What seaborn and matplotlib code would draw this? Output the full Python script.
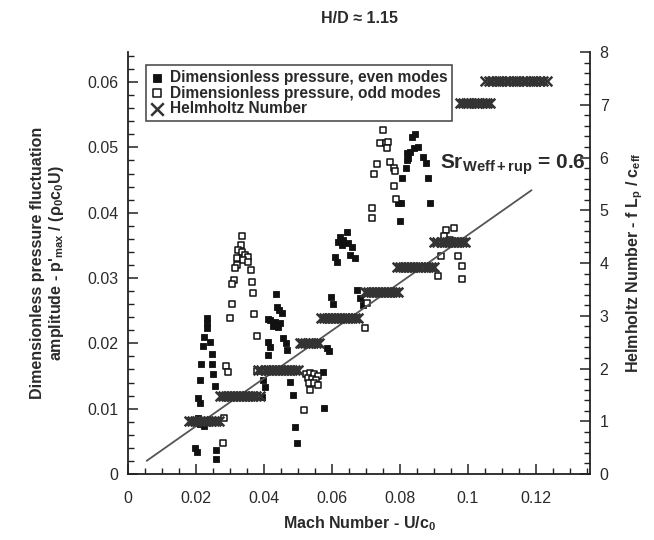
import numpy as np
import matplotlib
matplotlib.use("Agg")
import matplotlib.pyplot as plt
from matplotlib.ticker import MultipleLocator
import seaborn as sns

# ---------------- data ----------------
even_mach = [0.0232, 0.0232, 0.0232, 0.0224, 0.0241, 0.0221, 0.0247, 0.0215, 0.0247, 0.0250,
             0.0212, 0.0256, 0.0206, 0.0212, 0.0206, 0.0218, 0.0200, 0.0212, 0.0224, 0.0197,
             0.0203, 0.0259, 0.0259,
             0.0435, 0.0438, 0.0444, 0.0453, 0.0412, 0.0418, 0.0432, 0.0447, 0.0426, 0.0441,
             0.0412, 0.0418, 0.0412, 0.0456, 0.0465, 0.0468, 0.0397, 0.0403, 0.0394, 0.0476,
             0.0485, 0.0491, 0.0497,
             0.0644, 0.0624, 0.0618, 0.0632, 0.0647, 0.0659, 0.0629, 0.0609, 0.0615, 0.0653,
             0.0668, 0.0597, 0.0603, 0.0674, 0.0682, 0.0691, 0.0585, 0.0591, 0.0574, 0.0576,
             0.0844, 0.0835, 0.0853, 0.0841, 0.0829, 0.0821, 0.0824, 0.0821, 0.0868, 0.0876,
             0.0818, 0.0806, 0.0882, 0.0803, 0.0794, 0.0888, 0.0800]
even_p = [0.0239, 0.0231, 0.0223, 0.0210, 0.0202, 0.0196, 0.0184, 0.0168, 0.0168, 0.0153,
          0.0144, 0.0135, 0.0116, 0.0109, 0.0086, 0.0083, 0.0080, 0.0077, 0.0073, 0.0040,
          0.0034, 0.0037, 0.0023,
          0.0276, 0.0256, 0.0251, 0.0246, 0.0237, 0.0236, 0.0233, 0.0231, 0.0227, 0.0225,
          0.0202, 0.0194, 0.0182, 0.0208, 0.0201, 0.0190, 0.0144, 0.0133, 0.0118, 0.0141,
          0.0121, 0.0072, 0.0047,
          0.0370, 0.0363, 0.0355, 0.0358, 0.0354, 0.0347, 0.0351, 0.0332, 0.0325, 0.0335,
          0.0331, 0.0271, 0.0260, 0.0282, 0.0269, 0.0259, 0.0193, 0.0188, 0.0156, 0.0101,
          0.0520, 0.0516, 0.0501, 0.0499, 0.0493, 0.0491, 0.0484, 0.0481, 0.0485, 0.0476,
          0.0468, 0.0453, 0.0453, 0.0415, 0.0415, 0.0415, 0.0387]

odd_mach = [0.0335, 0.0332, 0.0324, 0.0335, 0.0344, 0.0353, 0.0321, 0.0338, 0.0353, 0.0321,
            0.0315, 0.0362, 0.0312, 0.0306, 0.0365, 0.0368, 0.0306, 0.0300, 0.0371, 0.0379,
            0.0288, 0.0294, 0.0379, 0.0282, 0.0279,
            0.0524, 0.0535, 0.0547, 0.0559, 0.0529, 0.0541, 0.0553, 0.0532, 0.0547, 0.0559,
            0.0535, 0.0518,
            0.0750, 0.0741, 0.0759, 0.0765, 0.0762, 0.0732, 0.0724, 0.0771, 0.0782, 0.0785,
            0.0782, 0.0788, 0.0718, 0.0718, 0.0703, 0.0697,
            0.0935, 0.0959, 0.0929, 0.0947, 0.0971, 0.0921, 0.0982, 0.0982, 0.0912]
odd_p = [0.0364, 0.0351, 0.0343, 0.0340, 0.0335, 0.0332, 0.0331, 0.0328, 0.0325, 0.0320,
         0.0315, 0.0312, 0.0297, 0.0291, 0.0294, 0.0277, 0.0260, 0.0239, 0.0245, 0.0211,
         0.0165, 0.0156, 0.0158, 0.0086, 0.0047,
         0.0153, 0.0155, 0.0153, 0.0150, 0.0147, 0.0145, 0.0144, 0.0139, 0.0139, 0.0136,
         0.0129, 0.0098,
         0.0527, 0.0507, 0.0507, 0.0508, 0.0499, 0.0475, 0.0459, 0.0478, 0.0468, 0.0464,
         0.0441, 0.0421, 0.0407, 0.0392, 0.0262, 0.0223,
         0.0373, 0.0377, 0.0364, 0.0358, 0.0334, 0.0334, 0.0318, 0.0298, 0.0303]

helm_mach = [0.0180, 0.0188, 0.0196, 0.0204, 0.0212, 0.0220, 0.0228, 0.0236, 0.0244, 0.0252, 0.0260, 0.0268,
             0.0270, 0.0279, 0.0288, 0.0297, 0.0306, 0.0315, 0.0324, 0.0333, 0.0342, 0.0351, 0.0360, 0.0369, 0.0378, 0.0388,
             0.0384, 0.0393, 0.0402, 0.0411, 0.0420, 0.0429, 0.0438, 0.0447, 0.0456, 0.0465, 0.0474, 0.0483, 0.0492, 0.0500,
             0.0505, 0.0513, 0.0521, 0.0529, 0.0537, 0.0545, 0.0553, 0.0561,
             0.0568, 0.0577, 0.0586, 0.0595, 0.0604, 0.0613, 0.0622, 0.0631, 0.0640, 0.0649, 0.0658, 0.0667, 0.0676,
             0.0697, 0.0706, 0.0715, 0.0724, 0.0733, 0.0742, 0.0751, 0.0760, 0.0769, 0.0778, 0.0787, 0.0796,
             0.0792, 0.0801, 0.0810, 0.0819, 0.0828, 0.0837, 0.0846, 0.0855, 0.0864, 0.0873, 0.0882, 0.0891, 0.0900,
             0.0902, 0.0911, 0.0920, 0.0929, 0.0938, 0.0947, 0.0956, 0.0965, 0.0974, 0.0983, 0.0992,
             0.0978, 0.0986, 0.0994, 0.1002, 0.1010, 0.1018, 0.1026, 0.1034, 0.1042, 0.1050, 0.1058, 0.1066,
             0.1052, 0.1062, 0.1072, 0.1082, 0.1092, 0.1102, 0.1112, 0.1122, 0.1132, 0.1142, 0.1152, 0.1162,
             0.1172, 0.1182, 0.1192, 0.1202, 0.1212, 0.1222, 0.1234]
helm_he = ([1.00] * 12 + [1.48] * 14 + [1.98] * 14 + [2.48] * 8 + [2.96] * 13 + [3.45] * 12
           + [3.92] * 13 + [4.40] * 11 + [7.03] * 12 + [7.45] * 19)

fit_mach = [0.0055, 0.1188]
fit_he = [0.25, 5.38]

xticks = [0, 0.02, 0.04, 0.06, 0.08, 0.1, 0.12]
xticklabels = ["0", "0.02", "0.04", "0.06", "0.08", "0.1", "0.12"]
yticks = [0, 0.01, 0.02, 0.03, 0.04, 0.05, 0.06]
y2ticks = [0, 1, 2, 3, 4, 5, 6, 7, 8]

# ---------------- style ----------------
sns.set_style("ticks")
plt.rcParams["font.family"] = ["Liberation Sans", "DejaVu Sans"]
plt.rcParams["mathtext.fontset"] = "custom"
plt.rcParams["mathtext.rm"] = "Liberation Sans:bold"
plt.rcParams["mathtext.bf"] = "Liberation Sans:bold"
plt.rcParams["mathtext.it"] = "Liberation Sans:bold"
TXT = "#2a2a2a"

fig = plt.figure(figsize=(6.54, 5.4), dpi=100)
ax = fig.add_axes([0.1957, 0.1222, 0.7064, 0.7815])
ax2 = ax.twinx()

sns.scatterplot(x=even_mach, y=even_p, ax=ax, marker="s", color="#111111", s=20,
                edgecolor="#111111", linewidth=0.6, legend=False,
                label="Dimensionless pressure, even modes", zorder=3)
sns.scatterplot(x=odd_mach, y=odd_p, ax=ax, marker="s", color="#111111", facecolor="white",
                edgecolor="#111111", s=16, linewidth=1.1, legend=False,
                label="Dimensionless pressure, odd modes", zorder=3)
sns.lineplot(x=fit_mach, y=fit_he, ax=ax2, color="#555555", linewidth=1.3, legend=False, zorder=2)
sns.scatterplot(x=helm_mach, y=helm_he, ax=ax2, marker="x", color="#333333", s=48,
                linewidth=1.8, legend=False, label="Helmholtz Number", zorder=4)

ax.set_xlim(0, 0.136)
ax.set_ylim(0, 0.0646)
ax2.set_ylim(0, 8)

ax.set_xticks(xticks)
ax.set_xticklabels(xticklabels)
ax.set_yticks(yticks)
ax.set_yticklabels(["0", "0.01", "0.02", "0.03", "0.04", "0.05", "0.06"])
ax2.set_yticks(y2ticks)
ax.xaxis.set_minor_locator(MultipleLocator(0.005))
ax.yaxis.set_minor_locator(MultipleLocator(0.002))
ax2.yaxis.set_minor_locator(MultipleLocator(0.2))

for a in (ax, ax2):
    a.tick_params(which="major", direction="in", length=7, width=1.1, labelsize=11.5,
                  labelcolor=TXT, color="#222222", pad=7)
    a.tick_params(which="minor", direction="in", length=4, width=1.0, color="#222222")
    a.spines["top"].set_visible(False)
    for sp in ("left", "right", "bottom"):
        a.spines[sp].set_linewidth(1.3)
        a.spines[sp].set_color("#222222")
ax.tick_params(axis="x", which="major", pad=12)
ax.tick_params(axis="y", which="both", right=False)
ax2.tick_params(axis="x", which="both", top=False)
ax.spines["right"].set_visible(False)
ax2.spines["left"].set_visible(False)
ax2.spines["bottom"].set_visible(False)

ax.set_xlabel(r"Mach Number - U/c$_\mathbf{0}$", fontsize=11.5, fontweight="bold", color=TXT)
ax.xaxis.set_label_coords(0.5, -0.095)
ax.set_ylabel("Dimensionless pressure fluctuation\n"
              r"amplitude - p'$_\mathbf{max}$ / (ρ$_\mathbf{0}$c$_\mathbf{0}$U)",
              fontsize=11.5, fontweight="bold", color=TXT, linespacing=1.15)
ax.yaxis.set_label_coords(-0.135, 0.5)
ax2.set_ylabel(r"Helmholtz Number - f L$_\mathbf{p}$ / c$_\mathbf{eff}$",
               fontsize=11.5, fontweight="bold", color=TXT)
ax2.yaxis.set_label_coords(1.075, 0.5)

fig.text(0.549, 0.966, "H/D ≈ 1.15", ha="center", va="center", fontsize=11.5,
         fontweight="bold", color=TXT)

ax.text(0.0918, 0.0468, r"Sr$_\mathbf{Weff+rup}$ = 0.6", fontsize=15, fontweight="bold",
        color=TXT, ha="left", va="baseline")

h1, l1 = ax.get_legend_handles_labels()
h2, l2 = ax2.get_legend_handles_labels()
leg = ax2.legend(h1 + h2, l1 + l2, loc="upper left", bbox_to_anchor=(0.039, 0.969),
                 borderaxespad=0, frameon=True, fancybox=False, edgecolor="#222222",
                 handlelength=0.8, handletextpad=0.45, borderpad=0.3, labelspacing=0.05,
                 markerscale=1.3, prop={"weight": "bold", "size": 11.2})
leg.get_frame().set_linewidth(1.2)
for t in leg.get_texts():
    t.set_color(TXT)

fig.savefig("out.png", dpi=100)
